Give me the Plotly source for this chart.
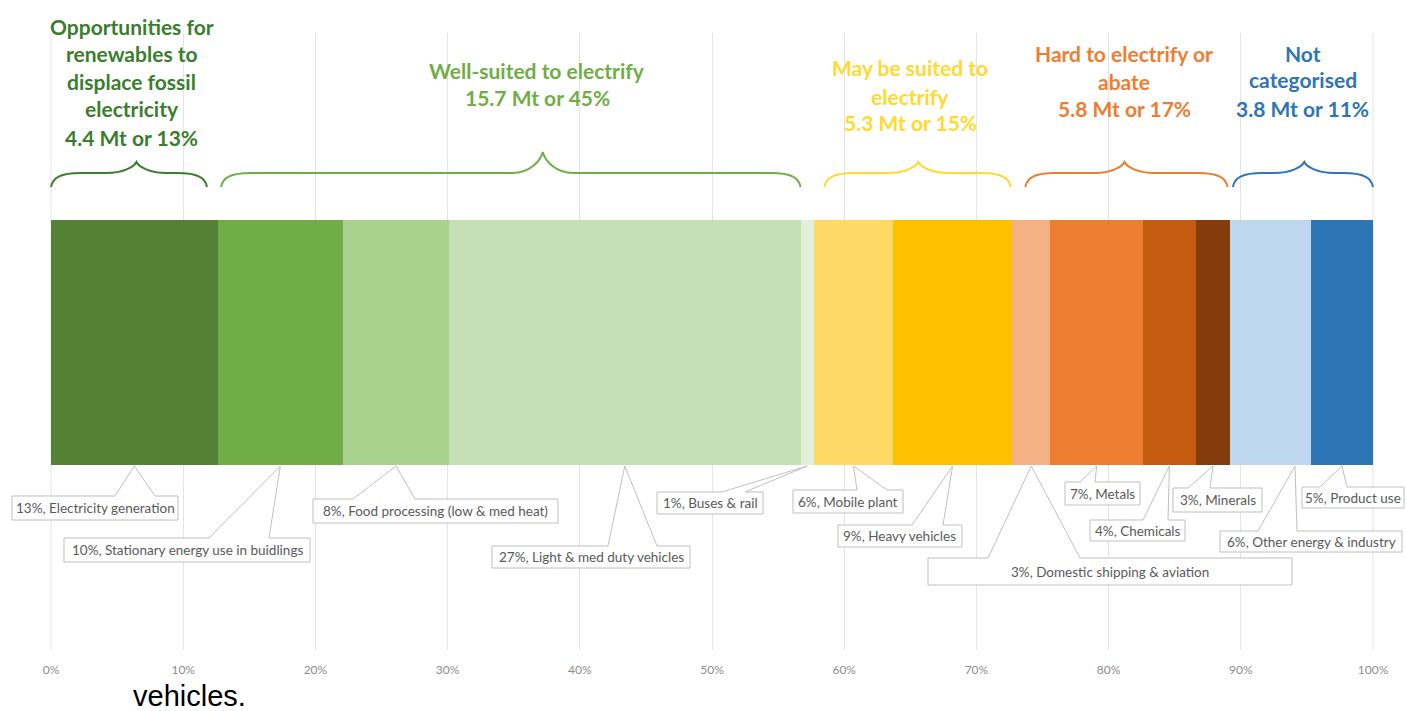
import plotly.graph_objects as go

# ---------------- data ----------------
categories = [
    "Electricity generation", "Stationary energy use in buidlings",
    "Food processing (low & med heat)", "Light & med duty vehicles",
    "Buses & rail", "Mobile plant", "Heavy vehicles",
    "Domestic shipping & aviation", "Metals", "Chemicals", "Minerals",
    "Other energy & industry", "Product use",
]
shares = [12.6, 9.5, 8.0, 26.6, 1.0, 6.0, 9.0, 2.9, 7.0, 4.0, 2.6, 6.1, 4.7]
share_labels = ["13%", "10%", "8%", "27%", "1%", "6%", "9%", "3%", "7%", "4%", "3%", "6%", "5%"]
segment_group = [0, 1, 1, 1, 1, 2, 2, 3, 3, 3, 3, 4, 4]

group_titles = [
    ["Opportunities for", "renewables to", "displace fossil", "electricity"],
    ["Well-suited to electrify"],
    ["May be suited to", "electrify"],
    ["Hard to electrify or", "abate"],
    ["Not", "categorised"],
]
group_mt = [4.4, 15.7, 5.3, 5.8, 3.8]
group_pct = [13, 45, 15, 17, 11]

tick_values = [0, 10, 20, 30, 40, 50, 60, 70, 80, 90, 100]
tick_labels = ["0%", "10%", "20%", "30%", "40%", "50%", "60%", "70%", "80%", "90%", "100%"]

# ---------------- styles / layout ----------------
W, H = 1407, 711
PL, PR, PT, PB = 51, 1373, 33, 650
BAR_TOP, BAR_BOT = 220, 465

seg_colors = ["#548235", "#70ad47", "#a9d18e", "#c5e0b4", "#e2f0d9",
              "#ffd966", "#ffc000", "#f4b183", "#ed7d31", "#c55a11",
              "#843c0c", "#bdd7ee", "#2e75b6"]
group_colors = ["#3b7d2e", "#70ad47", "#ffd92e", "#ed7d31", "#2e75b6"]

# header layout: text centre x (% axis), line centre y (px), brace insets/tip (% axis), tip y (px)
group_text_x = [6.1, 36.8, 65.0, 81.2, 94.7]
group_line_y = [[26, 53, 81, 109, 137], [70, 98], [68, 96, 123], [53, 81, 109], [53, 80, 108]]
brace_inset = [(0.0, 0.8), (0.26, 1.0), (0.8, 0.1), (1.0, 0.2), (0.2, 0.0)]
brace_tip = [6.46, 37.2, 65.6, 81.2, 94.8]
brace_tip_y = [162, 152, 162, 162, 162]
BRACE_END_Y, BRACE_LINE_Y = 187, 173

# callout layout (px): box x0, x1, y0, y1, wedge base bx0, bx1; tip offset in %
callouts = [
    (12, 178, 496, 520, 115, 155, 0),
    (64, 310, 538, 562, 209, 269, 0),
    (313, 558, 499, 523, 353, 415, 0),
    (492, 690, 546, 568, 608, 657, 0),
    (657, 763, 492, 514, 722, 745, 0),
    (793, 903, 490, 513, 857, 887, 0),
    (838, 962, 525, 547, 912, 943, 0),
    (928, 1292, 558, 585, 988, 1080, 0),
    (1065, 1140, 482, 505, 1080, 1095, 0),
    (1090, 1185, 520, 541, 1143, 1168, 0),
    (1173, 1262, 488, 512, 1188, 1210, 0),
    (1220, 1402, 531, 552, 1258, 1297, 1.85),
    (1302, 1404, 487, 508, 1320, 1347, 0),
]


def px_to_paper_x(px):
    return (px - PL) / (PR - PL)


def px_to_paper_y(py):
    return (PB - py) / (PB - PT)


def data_to_paper_x(v):
    return v / 100.0


fig = go.Figure()

bar_y = (BAR_TOP + BAR_BOT) / 2
bar_h = BAR_BOT - BAR_TOP
for name, val, col in zip(categories, shares, seg_colors):
    fig.add_trace(go.Bar(
        x=[val], y=[bar_y], orientation="h", width=bar_h, name=name,
        marker=dict(color=col, line=dict(width=0)), showlegend=False,
        hovertemplate=name + ": %{x}%<extra></extra>",
    ))

# cumulative positions
starts = []
acc = 0.0
for v in shares:
    starts.append(acc)
    acc += v

g_start = {}
g_end = {}
for s, v, g in zip(starts, shares, segment_group):
    g_start[g] = min(g_start.get(g, 1e9), s)
    g_end[g] = max(g_end.get(g, -1e9), s + v)

shapes = []
annotations = []


def P(x, y):
    return f"{px_to_paper_x(x):.5f},{y:.2f}"


def brace_path(x0, x1, xm, ye, yl, yt, r):
    d = ye - yl
    t = yl - yt
    return (
        f"M {P(x0, ye)} "
        f"C {P(x0 + 0.05 * r, yl + 0.35 * d)} {P(x0 + 0.3 * r, yl)} {P(x0 + r, yl)} "
        f"L {P(xm - r, yl)} "
        f"C {P(xm - 0.45 * r, yl)} {P(xm - 0.08 * r, yt + 0.45 * t)} {P(xm, yt)} "
        f"C {P(xm + 0.08 * r, yt + 0.45 * t)} {P(xm + 0.45 * r, yl)} {P(xm + r, yl)} "
        f"L {P(x1 - r, yl)} "
        f"C {P(x1 - 0.3 * r, yl)} {P(x1 - 0.05 * r, yl + 0.35 * d)} {P(x1, ye)}"
    )


def to_px(v):
    return PL + v / 100.0 * (PR - PL)


# vertical gridlines at 0% and 100% edges (Plotly skips edge gridlines)
for v in (tick_values[0], tick_values[-1]):
    shapes.append(dict(
        type="line", xref="paper", yref="paper",
        x0=data_to_paper_x(v), x1=data_to_paper_x(v), y0=0, y1=1,
        line=dict(color="#e3e3e3", width=1), layer="below",
    ))

for g in range(len(group_titles)):
    col = group_colors[g]
    x0 = to_px(g_start[g] + brace_inset[g][0])
    x1 = to_px(g_end[g] - brace_inset[g][1])
    xm = to_px(brace_tip[g])
    shapes.append(dict(
        type="path", xref="paper", yref="y",
        path=brace_path(x0, x1, xm, BRACE_END_Y, BRACE_LINE_Y, brace_tip_y[g], 30),
        line=dict(color=col, width=2), layer="above",
    ))
    lines = group_titles[g] + [f"{group_mt[g]} Mt or {group_pct[g]}%"]
    for txt, ly in zip(lines, group_line_y[g]):
        annotations.append(dict(
            x=data_to_paper_x(group_text_x[g]), y=px_to_paper_y(ly),
            xref="paper", yref="paper", text=txt, showarrow=False,
            xanchor="center", yanchor="middle",
            font=dict(family="Lato", size=21, color=col, weight="bold"),
        ))

# callouts
for i, (bx0, bx1, by0, by1, wx0, wx1, off) in enumerate(callouts):
    tip_x = to_px(starts[i] + shares[i] / 2 + off)
    tip_y = BAR_BOT + 1
    path = (f"M {P(wx0, by0)} L {P(tip_x, tip_y)} L {P(wx1, by0)} "
            f"L {P(bx1, by0)} L {P(bx1, by1)} L {P(bx0, by1)} L {P(bx0, by0)} Z")
    shapes.append(dict(
        type="path", xref="paper", yref="y", path=path,
        fillcolor="white", line=dict(color="#bfbfbf", width=1), layer="above",
    ))
    annotations.append(dict(
        x=px_to_paper_x((bx0 + bx1) / 2), y=(by0 + by1) / 2,
        xref="paper", yref="y", text=f"{share_labels[i]}, {categories[i]}",
        showarrow=False, xanchor="center", yanchor="middle",
        font=dict(family="Lato", size=13.5, color="#595959"),
    ))

annotations.append(dict(
    x=px_to_paper_x(131), y=px_to_paper_y(696), xref="paper", yref="paper",
    text="vehicles.", showarrow=False, xanchor="left", yanchor="middle",
    font=dict(family="Liberation Sans", size=29, color="#000000"),
))

fig.update_layout(
    width=W, height=H,
    margin=dict(l=PL, r=W - PR, t=PT, b=H - PB, pad=0),
    paper_bgcolor="white", plot_bgcolor="white",
    barmode="stack", bargap=0,
    shapes=shapes, annotations=annotations,
    xaxis=dict(
        range=[0, 100], tickvals=tick_values, ticktext=tick_labels,
        showgrid=True, gridcolor="#e3e3e3", gridwidth=1, zeroline=False,
        showline=False, ticks="outside", ticklen=9, tickcolor="rgba(0,0,0,0)",
        tickfont=dict(family="Lato", size=12, color="#8c8c8c"),
        fixedrange=True,
    ),
    yaxis=dict(
        range=[PB, PT], showgrid=False, zeroline=False, showticklabels=False,
        showline=False, fixedrange=True,
    ),
    showlegend=False,
)

fig.write_html("out.html")
